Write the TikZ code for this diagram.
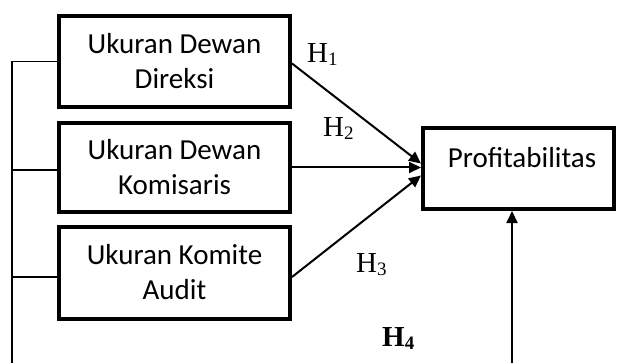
\documentclass[tikz,border=0pt]{standalone}
\usepackage{fontspec}
\usetikzlibrary{arrows.meta}
\newfontfamily\boxfont{Carlito}
\newfontfamily\hfont{Liberation Serif}
\newcommand{\hlab}[1]{{\hfont\fontsize{29}{32}\selectfont H}\raisebox{-3pt}{\hfont\fontsize{19}{20}\selectfont #1}}
\newcommand{\hlabb}[1]{{\hfont\bfseries\fontsize{29}{32}\selectfont H}\raisebox{-3pt}{\hfont\bfseries\fontsize{19}{20}\selectfont #1}}
\tikzset{
  varbox/.style={draw, line width=4pt, minimum width=231pt, align=center, inner sep=0pt,
    font=\boxfont\fontsize{29}{35}\selectfont},
  hyp/.style={line width=2pt, -{Triangle[length=12pt,width=11pt]}},
  brack/.style={line width=1.3pt},
  hnode/.style={anchor=base west, inner sep=0pt}
}
\begin{document}
\begin{tikzpicture}[x=1pt,y=-1pt]
\useasboundingbox (0,0) rectangle (617,363);
\node[varbox, minimum height=91pt] (b1) at (174.5,61.5) {Ukuran Dewan\\Direksi};
\node[varbox, minimum height=89pt] (b2) at (174.5,167.5) {Ukuran Dewan\\Komisaris};
\node[varbox, minimum height=92pt] (b3) at (174.5,272.5) {Ukuran Komite\\Audit};
\node[draw, line width=4pt, minimum width=191pt, minimum height=81pt, inner sep=0pt,
  text height=20pt, text depth=21pt, font=\boxfont\fontsize{29}{35}\selectfont] (pr) at (518.5,168.5) {\hspace*{7pt}Profitabilitas};
% bracket
\coordinate (bk) at (12,363);
\coordinate (c2) at ([yshift=-2.5pt]b2.west);
\coordinate (c3) at ([yshift=-4.5pt]b3.west);
\draw[brack] (bk) |- (b1.west);
\draw[brack] (c2) -- (c2 -| bk);
\draw[brack] (c3) -- (c3 -| bk);
% hypotheses arrows
\coordinate (s1) at ([yshift=-2pt]b1.east);
\coordinate (s3) at ([yshift=-4.5pt]b3.east);
\draw[hyp] (s1) -- ([yshift=5pt]pr.west);
\draw[hyp] (b2.east) -- (b2.east -| pr.west);
\draw[hyp] (s3) -- ([yshift=-7pt]pr.west);
\coordinate (v) at (512,363);
\draw[hyp] (v) -- (v |- pr.south);
% labels
\node[hnode] (h1) at (307,63) {\hlab{1}};
\node[hnode] (h2) at (323,137) {\hlab{2}};
\node[hnode] (h3) at (356,272) {\hlab{3}};
\node[hnode] (h4) at (382,346) {\hlabb{4}};
\end{tikzpicture}
\end{document}
